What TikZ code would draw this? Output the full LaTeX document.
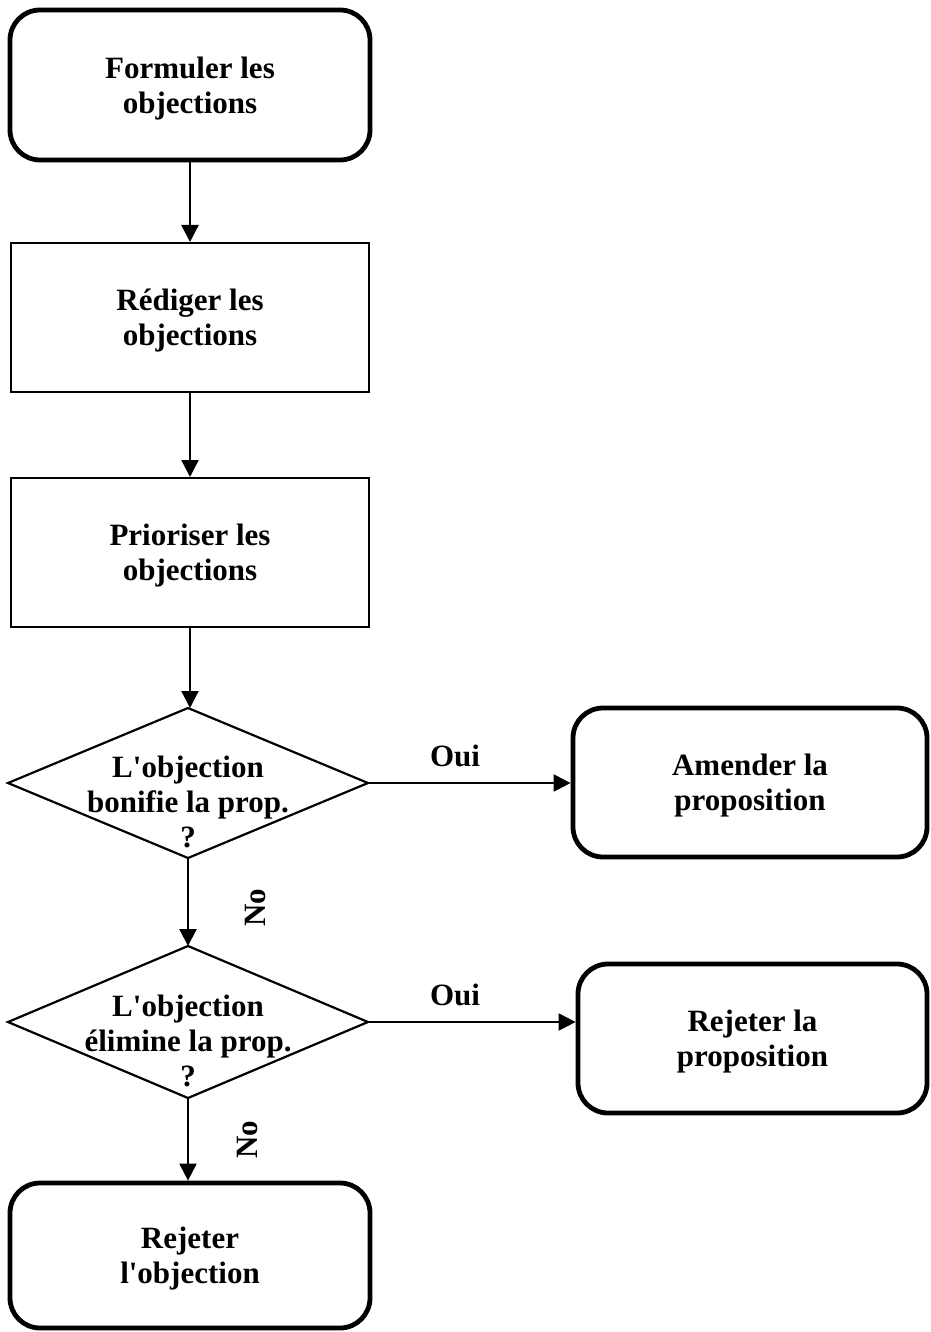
\documentclass[tikz,border=0pt]{standalone}
\usepackage{fontspec}
\setmainfont{Liberation Serif}
\usetikzlibrary{shapes.geometric,arrows.meta}
\tikzset{
  txt/.style={font=\bfseries\fontsize{31}{35}\selectfont, align=center},
  roundbox/.style={draw, line width=4.8pt, rounded corners=30pt, txt, text depth=0pt},
  rectbox/.style={draw, line width=2pt, txt, text depth=0pt},
  decision/.style={draw, diamond, line width=2.2pt, inner sep=0pt, outer sep=0pt},
  conn/.style={line width=2.3pt, -{Triangle[length=17pt,width=17pt]}},
  lab/.style={font=\bfseries\fontsize{31}{35}\selectfont}
}
\begin{document}
\begin{tikzpicture}[x=1pt,y=-1pt]
\useasboundingbox (0,0) rectangle (930,1332);
\node[roundbox, minimum width=360pt, minimum height=150pt] (b1) at (190,85) {Formuler les\\objections};
\node[rectbox, minimum width=358pt, minimum height=149pt] (b2) at (190,317.5) {Rédiger les\\objections};
\node[rectbox, minimum width=358pt, minimum height=149pt] (b3) at (190,552.5) {Prioriser les\\objections};
\node[decision, minimum width=360pt, minimum height=150pt] (d1) at (188,783) {};
\node[txt] (d1t) at (188,802) {L\textquotesingle objection\\bonifie la prop.\\?};
\node[decision, minimum width=360pt, minimum height=152pt] (d2) at (188,1022) {};
\node[txt] (d2t) at (188,1041) {L\textquotesingle objection\\élimine la prop.\\?};
\node[roundbox, minimum width=354pt, minimum height=149pt] (a) at (750,782.5) {Amender la\\proposition};
\node[roundbox, minimum width=349pt, minimum height=149pt] (r) at (752.5,1038.5) {Rejeter la\\proposition};
\node[roundbox, minimum width=360pt, minimum height=145pt] (ro) at (190,1255.5) {Rejeter\\l\textquotesingle objection};
\draw[conn] (b1.south) -- (b2.north);
\draw[conn] (b2.south) -- (b3.north);
\draw[conn] (b3.south) -- (b3.south |- d1.north);
\draw[conn] (d1.south) -- (d2.north);
\draw[conn] (d2.south) -- (d2.south |- ro.north);
\draw[conn] (d1.east) -- (d1.east -| a.west);
\draw[conn] (d2.east) -- (d2.east -| r.west);
\node[lab] (oui1) at (455,756) {Oui};
\node[lab] (oui2) at (455,995) {Oui};
\node[lab, rotate=90] (no1) at (255,908) {No};
\node[lab, rotate=90] (no2) at (247,1140) {No};
\end{tikzpicture}
\end{document}
